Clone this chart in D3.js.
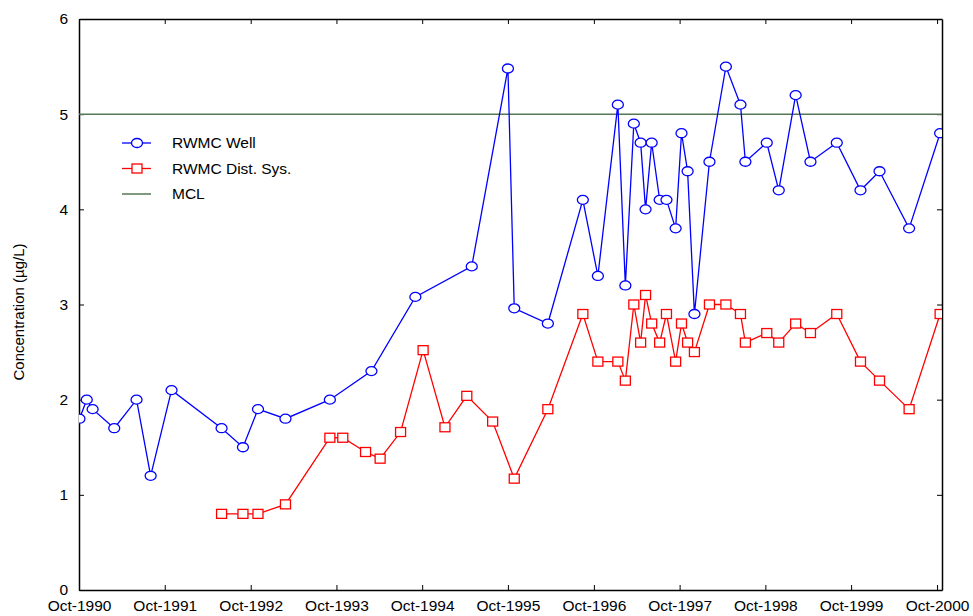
<!DOCTYPE html>
<html>
<head>
<meta charset="utf-8">
<script src="https://cdn.jsdelivr.net/npm/d3@7"></script>
<style>
body { margin: 0; background: #fff; }
text { font-family: "Liberation Sans", Arial, sans-serif; fill: #000; }
</style>
</head>
<body>
<svg width="973" height="616"></svg>
<script>
// RWMC Well samples
var wellDates = ["1990-10-03","1990-11-03","1990-11-28","1991-02-28","1991-06-03","1991-08-02","1991-10-30",
	"1992-05-30","1992-08-29","1992-11-01","1993-02-26","1993-09-03","1994-02-27","1994-09-02","1995-04-30",
	"1995-10-01","1995-10-28","1996-03-19","1996-08-15","1996-10-18","1997-01-11","1997-02-12","1997-03-20",
	"1997-04-18","1997-05-09","1997-06-04","1997-07-08","1997-08-06","1997-09-14","1997-10-09","1997-11-04",
	"1997-12-03","1998-02-05","1998-04-16","1998-06-17","1998-07-08","1998-10-07","1998-11-27","1999-02-07",
	"1999-04-11","1999-08-01","1999-11-10","2000-01-30","2000-06-04","2000-10-14"]
var wellValues = [1.8, 2.0, 1.9, 1.7, 2.0, 1.2, 2.1,
	1.7, 1.5, 1.9, 1.8, 2.0, 2.3, 3.08, 3.4,
	5.48, 2.96, 2.8, 4.1, 3.3, 5.1, 3.2, 4.9,
	4.7, 4.0, 4.7, 4.1, 4.1, 3.8, 4.8, 4.4,
	2.9, 4.5, 5.5, 5.1, 4.5, 4.7, 4.2, 5.2,
	4.5, 4.7, 4.2, 4.4, 3.8, 4.8]

// RWMC distribution system samples
var distDates = ["1992-05-30","1992-08-29","1992-11-01","1993-02-26","1993-09-03","1993-10-28","1994-02-02",
	"1994-04-05","1994-07-01","1994-10-05","1995-01-06","1995-04-09","1995-07-28","1995-10-28","1996-03-19",
	"1996-08-15","1996-10-18","1997-01-11","1997-02-12","1997-03-20","1997-04-18","1997-05-09","1997-06-04",
	"1997-07-08","1997-08-06","1997-09-14","1997-10-09","1997-11-04","1997-12-03","1998-02-05","1998-04-16",
	"1998-06-17","1998-07-08","1998-10-07","1998-11-27","1999-02-07","1999-04-11","1999-08-01","1999-11-10",
	"2000-01-30","2000-06-04","2000-10-14"]
var distValues = [0.8, 0.8, 0.8, 0.9, 1.6, 1.6, 1.45,
	1.38, 1.66, 2.52, 1.71, 2.04, 1.77, 1.17, 1.9,
	2.9, 2.4, 2.4, 2.2, 3.0, 2.6, 3.1, 2.8,
	2.6, 2.9, 2.4, 2.8, 2.6, 2.5, 3.0, 3.0,
	2.9, 2.6, 2.7, 2.6, 2.8, 2.7, 2.9, 2.4,
	2.2, 1.9, 2.9]

var mclValue = 5
var yTicks = [0, 1, 2, 3, 4, 5, 6]
var xTickLabels = ["Oct-1990","Oct-1991","Oct-1992","Oct-1993","Oct-1994","Oct-1995",
	"Oct-1996","Oct-1997","Oct-1998","Oct-1999","Oct-2000"]
var legendNames = ["RWMC Well", "RWMC Dist. Sys.", "MCL"]

var svg = d3.select("svg"),
	margin = { top: 19, right: 31, bottom: 26, left: 79 },
	width = +svg.attr("width") - margin.left - margin.right,
	height = +svg.attr("height") - margin.top - margin.bottom

var parseDate = d3.timeParse("%Y-%m-%d"),
	parseTick = d3.timeParse("%b-%Y")

var well = wellDates.map(function(d, i) { return { date: parseDate(d), value: wellValues[i] } })
var dist = distDates.map(function(d, i) { return { date: parseDate(d), value: distValues[i] } })
var xTicks = xTickLabels.map(function(d) { return parseTick(d) })

var x = d3.scaleTime().domain([parseDate("1990-10-01"), parseDate("2000-10-22")]).range([0, width]),
	y = d3.scaleLinear().domain([0, 6]).range([height, 0])

var g = svg.append("g").attr("transform", "translate(" + margin.left + "," + margin.top + ")")

g.append("clipPath").attr("id", "plot")
	.append("rect").attr("width", width).attr("height", height)

// axes, ticks pointing inwards on all four sides
var tickFmt = d3.timeFormat("%b-%Y")
g.append("g").attr("class", "axis")
	.attr("transform", "translate(0," + height + ")")
	.call(d3.axisBottom(x).tickValues(xTicks).tickFormat(tickFmt).tickSizeInner(-5).tickSizeOuter(0).tickPadding(10))
g.append("g").attr("class", "axis")
	.call(d3.axisTop(x).tickValues(xTicks).tickFormat("").tickSizeInner(-5).tickSizeOuter(0))
g.append("g").attr("class", "axis")
	.call(d3.axisLeft(y).tickValues(yTicks).tickFormat(d3.format("d")).tickSizeInner(-5).tickSizeOuter(0).tickPadding(11))
g.append("g").attr("class", "axis")
	.attr("transform", "translate(" + width + ",0)")
	.call(d3.axisRight(y).tickValues(yTicks).tickFormat("").tickSizeInner(-5).tickSizeOuter(0))

g.selectAll(".axis text").style("font-size", "15.5px").attr("fill", "#000")
g.selectAll(".axis line").attr("stroke", "#000").attr("stroke-width", 1)
g.selectAll(".axis .domain").attr("stroke", "#000").attr("stroke-width", 1.5)

// y axis title
svg.append("text")
	.attr("transform", "translate(24," + (margin.top + 293) + ") rotate(-90)")
	.attr("text-anchor", "middle")
	.style("font-size", "15px")
	.text("Concentration (µg/L)")

var plot = g.append("g").attr("clip-path", "url(#plot)")

// MCL line
plot.append("line")
	.attr("x1", 0).attr("x2", width)
	.attr("y1", y(mclValue)).attr("y2", y(mclValue))
	.attr("stroke", "#557755").attr("stroke-width", 1.5)

var line = d3.line()
	.x(function(d) { return x(d.date) })
	.y(function(d) { return y(d.value) })

plot.append("path").datum(dist)
	.attr("fill", "none").attr("stroke", "#ff0000").attr("stroke-width", 1.3)
	.attr("d", line)

plot.append("path").datum(well)
	.attr("fill", "none").attr("stroke", "#0000ff").attr("stroke-width", 1.3)
	.attr("d", line)

plot.selectAll(".sq").data(dist)
	.enter().append("rect")
		.attr("class", "sq")
		.attr("x", function(d) { return x(d.date) - 5 })
		.attr("y", function(d) { return y(d.value) - 4.5 })
		.attr("width", 10).attr("height", 9)
		.attr("fill", "#fff").attr("stroke", "#ff0000").attr("stroke-width", 1.3)

plot.selectAll(".dot").data(well)
	.enter().append("ellipse")
		.attr("class", "dot")
		.attr("cx", function(d) { return x(d.date) })
		.attr("cy", function(d) { return y(d.value) })
		.attr("rx", 5.5).attr("ry", 4.5)
		.attr("fill", "#fff").attr("stroke", "#0000ff").attr("stroke-width", 1.3)

// legend
var legend = svg.append("g").attr("transform", "translate(122,143)")
var items = legend.selectAll("g").data(legendNames)
	.enter().append("g")
		.attr("transform", function(d, i) { return "translate(0," + [0, 25.5, 51][i] + ")" })

var legendColors = ["#0000ff", "#ff0000", "#557755"]
items.append("line")
	.attr("x1", 0).attr("x2", 29)
	.attr("stroke", function(d, i) { return legendColors[i] })
	.attr("stroke-width", function(d, i) { return i == 2 ? 1.5 : 1.3 })
items.filter(function(d, i) { return i == 0 }).append("ellipse")
	.attr("cx", 15).attr("rx", 5.5).attr("ry", 4.5)
	.attr("fill", "#fff").attr("stroke", "#0000ff").attr("stroke-width", 1.3)
items.filter(function(d, i) { return i == 1 }).append("rect")
	.attr("x", 10).attr("y", -4.5).attr("width", 10).attr("height", 9)
	.attr("fill", "#fff").attr("stroke", "#ff0000").attr("stroke-width", 1.3)
items.append("text")
	.attr("x", 50).attr("dy", "0.35em")
	.style("font-size", "15.5px")
	.text(function(d) { return d })
</script>
</body>
</html>
